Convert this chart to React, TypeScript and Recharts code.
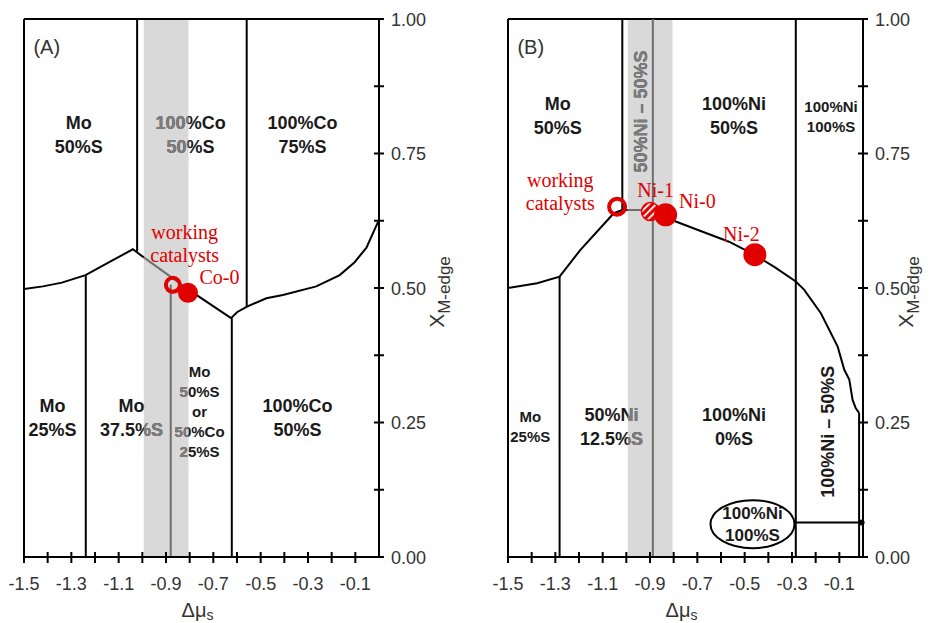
import React from "react";
import {
  ComposedChart,
  XAxis,
  YAxis,
  Line,
  Scatter,
  ReferenceArea,
  ReferenceLine,
  ReferenceDot,
} from "recharts";

type Pt = { x: number; y: number };
type Seg = [number, number, number]; // x, yFrom, yTo
type Lab = { x: number; y: number; lines: string[] };

// axes
const X_TICKS = [-1.5, -1.4, -1.3, -1.2, -1.1, -1.0, -0.9, -0.8, -0.7, -0.6, -0.5, -0.4, -0.3, -0.2, -0.1];
const X_TICK_LABELS = [-1.5, -1.3, -1.1, -0.9, -0.7, -0.5, -0.3, -0.1];
const Y_TICKS = [0, 0.125, 0.25, 0.375, 0.5, 0.625, 0.75, 0.875, 1];
const Y_TICK_LABELS = [0, 0.25, 0.5, 0.75, 1];

const BAND: [number, number] = [-0.994, -0.805];

// ---- panel A (Co) ----
const A_CURVES: Pt[][] = [
  [
    { x: -1.5, y: 0.498 }, { x: -1.42, y: 0.503 }, { x: -1.34, y: 0.51 },
    { x: -1.24, y: 0.524 }, { x: -1.14, y: 0.548 }, { x: -1.04, y: 0.572 }, { x: -0.994, y: 0.557 },
  ],
  [{ x: -0.805, y: 0.497 }, { x: -0.625, y: 0.444 }],
  [
    { x: -0.625, y: 0.444 }, { x: -0.6, y: 0.455 }, { x: -0.56, y: 0.465 }, { x: -0.476, y: 0.481 },
    { x: -0.406, y: 0.487 }, { x: -0.265, y: 0.503 }, { x: -0.166, y: 0.524 }, { x: -0.103, y: 0.548 },
    { x: -0.053, y: 0.575 }, { x: -0.004, y: 0.623 },
  ],
];
const A_GREY_CURVES: Pt[][] = [[{ x: -0.994, y: 0.557 }, { x: -0.805, y: 0.497 }]];
const A_WALLS: Seg[] = [[-1.022, 0.568, 1], [-0.559, 0.466, 1], [-1.239, 0, 0.524], [-0.622, 0, 0.444]];
const A_GREY_WALLS: Seg[] = [[-0.88, 0, 0.506]];
const A_RINGS: Pt[] = [{ x: -0.871, y: 0.506 }];
const A_DOTS: Pt[] = [{ x: -0.807, y: 0.491 }];
const A_BIG: Lab[] = [
  { x: -1.269, y: 0.785, lines: ["Mo", "50%S"] },
  { x: -0.796, y: 0.785, lines: ["100%Co", "50%S"] },
  { x: -0.323, y: 0.785, lines: ["100%Co", "75%S"] },
  { x: -1.38, y: 0.26, lines: ["Mo", "25%S"] },
  { x: -1.046, y: 0.26, lines: ["Mo", "37.5%S"] },
  { x: -0.344, y: 0.26, lines: ["100%Co", "50%S"] },
];
const A_SMALL: Lab[] = [{ x: -0.758, y: 0.271, lines: ["Mo", "50%S", "or", "50%Co", "25%S"] }];
const A_RED: Lab[] = [
  { x: -0.821, y: 0.583, lines: ["working", "catalysts"] },
  { x: -0.674, y: 0.521, lines: ["Co-0"] },
];

// ---- panel B (Ni) ----
const B_CURVES: Pt[][] = [
  [
    { x: -1.5, y: 0.5 }, { x: -1.377, y: 0.509 }, { x: -1.282, y: 0.521 }, { x: -1.194, y: 0.571 },
    { x: -1.053, y: 0.639 }, { x: -1.017, y: 0.645 }, { x: -0.994, y: 0.645 },
  ],
  [
    { x: -0.805, y: 0.626 }, { x: -0.686, y: 0.606 }, { x: -0.566, y: 0.586 }, { x: -0.46, y: 0.562 },
    { x: -0.37, y: 0.538 }, { x: -0.284, y: 0.512 }, { x: -0.249, y: 0.497 }, { x: -0.178, y: 0.453 },
    { x: -0.107, y: 0.391 }, { x: -0.079, y: 0.348 }, { x: -0.058, y: 0.33 }, { x: -0.044, y: 0.292 },
    { x: -0.031, y: 0.277 }, { x: -0.0165, y: 0.268 },
  ],
];
const B_GREY_CURVES: Pt[][] = [
  [{ x: -0.994, y: 0.645 }, { x: -0.888, y: 0.645 }, { x: -0.805, y: 0.626 }],
];
const B_WALLS: Seg[] = [[-1.017, 0.645, 1], [-0.284, 0, 1], [-1.282, 0, 0.521], [-0.0165, 0, 0.268]];
const B_GREY_WALLS: Seg[] = [[-0.888, 0, 1]];
const B_SHELF: Pt[] = [{ x: -0.284, y: 0.064 }, { x: -0.006, y: 0.064 }];
const B_RINGS: Pt[] = [{ x: -1.039, y: 0.651 }];
const B_HATCHED: Pt[] = [{ x: -0.898, y: 0.642 }];
const B_DOTS: Pt[] = [{ x: -0.834, y: 0.636 }, { x: -0.457, y: 0.562 }];
const B_BIG: Lab[] = [
  { x: -1.29, y: 0.82, lines: ["Mo", "50%S"] },
  { x: -0.545, y: 0.82, lines: ["100%Ni", "50%S"] },
  { x: -1.063, y: 0.243, lines: ["50%Ni", "12.5%S"] },
  { x: -0.545, y: 0.243, lines: ["100%Ni", "0%S"] },
];
const B_SMALL: Lab[] = [
  { x: -0.135, y: 0.818, lines: ["100%Ni", "100%S"] },
  { x: -1.406, y: 0.243, lines: ["Mo", "25%S"] },
];
const B_OVAL: Lab[] = [{ x: -0.467, y: 0.061, lines: ["100%Ni", "100%S"] }];
const B_UPRIGHT: Lab[] = [
  { x: -0.94, y: 0.828, lines: ["50%Ni – 50%S"] },
  { x: -0.152, y: 0.233, lines: ["100%Ni – 50%S"] },
];
const B_RED: Lab[] = [
  { x: -1.279, y: 0.679, lines: ["working", "catalysts"] },
  { x: -0.876, y: 0.683, lines: ["Ni-1"] },
  { x: -0.7, y: 0.662, lines: ["Ni-0"] },
  { x: -0.514, y: 0.6, lines: ["Ni-2"] },
];

const SANS = '"Liberation Sans", Arial, sans-serif';
const SERIF = '"Liberation Serif", "Times New Roman", serif';
const RED = "#e00000";
const INK = "#1a1a1a";
const BAND_INK = "#7d7d7d";
const GREY_LINE = "#6f6f6f";

const near = (arr: number[], v: number) => arr.some((t) => Math.abs(t - v) < 1e-6);

function xTick(p: any) {
  const { x, y, payload } = p;
  const v = payload.value;
  return (
    <g>
      <line x1={x} x2={x} y1={y - 5} y2={y + 6} stroke="#000" strokeWidth={2} />
      {near(X_TICK_LABELS, v) && (
        <text x={x} y={y + 33} textAnchor="middle" fontFamily={SANS} fontSize={18} fill="#333">
          {v.toFixed(1)}
        </text>
      )}
    </g>
  );
}

function yTick(p: any) {
  const { x, y, payload } = p;
  const v = payload.value;
  return (
    <g>
      <line x1={x - 5} x2={x + 5} y1={y} y2={y} stroke="#000" strokeWidth={2} />
      {near(Y_TICK_LABELS, v) && (
        <text x={x + 12} y={y + 6.5} textAnchor="start" fontFamily={SANS} fontSize={18} fill="#333">
          {v.toFixed(2)}
        </text>
      )}
    </g>
  );
}

function block(
  cx: number, cy: number, lines: string[], size: number, gap: number,
  fill: string, weight: string, family: string,
) {
  const n = lines.length;
  return (
    <text fontFamily={family} fontSize={size} fontWeight={weight} fill={fill} textAnchor="middle">
      {lines.map((l, i) => (
        <tspan key={i} x={cx} y={cy + (i - (n - 1) / 2) * gap + size * 0.36}>{l}</tspan>
      ))}
    </text>
  );
}

// black text, with the part lying on the grey band redrawn in grey
const labelShape = (size: number, gap: number, clip: string) => (p: any) => {
  const lines: string[] = p.payload?.lines ?? p.lines;
  return (
    <g>
      {block(p.cx, p.cy, lines, size, gap, INK, "bold", SANS)}
      <g clipPath={`url(#${clip})`}>{block(p.cx, p.cy, lines, size, gap, BAND_INK, "bold", SANS)}</g>
    </g>
  );
};

const uprightShape = (clip: string) => (p: any) => {
  const text: string = (p.payload?.lines ?? p.lines)[0];
  const t = `rotate(-90, ${p.cx}, ${p.cy})`;
  return (
    <g>
      <g transform={t}>{block(p.cx, p.cy, [text], 18, 20, INK, "bold", SANS)}</g>
      <g clipPath={`url(#${clip})`}>
        <g transform={t}>{block(p.cx, p.cy, [text], 18, 20, BAND_INK, "bold", SANS)}</g>
      </g>
    </g>
  );
};

const redShape = (p: any) => block(p.cx, p.cy, p.payload?.lines ?? p.lines, 20, 23, RED, "normal", SERIF);

const ringShape = (r: number) => (p: any) => (
  <circle cx={p.cx} cy={p.cy} r={r} fill="none" stroke={RED} strokeWidth={4} />
);
const dotShape = (r: number) => (p: any) => <circle cx={p.cx} cy={p.cy} r={r} fill={RED} />;
const hatchShape = (p: any) => (
  <circle cx={p.cx} cy={p.cy} r={9} fill="url(#hatchB)" stroke={RED} strokeWidth={1.5} />
);

type PanelProps = {
  tag: string;
  clip: string;
  width: number;
  margin: { top: number; right: number; left: number; bottom: number };
  yAxisWidth: number;
  yTitleOffset: number;
  curves: Pt[][];
  greyCurves: Pt[][];
  walls: Seg[];
  greyWalls: Seg[];
  rings: Pt[];
  dots: Pt[];
  ringR: number;
  dotR: number;
  big: Lab[];
  small: Lab[];
  smallGap: number;
  red: Lab[];
  extra?: React.ReactNode[];
};

function Panel(pp: PanelProps) {
  return (
    <ComposedChart width={pp.width} height={623} margin={pp.margin}>
      <defs>
        <pattern id="hatchB" patternUnits="userSpaceOnUse" width={5} height={5} patternTransform="rotate(45)">
          <rect x={0} y={0} width={5} height={5} fill={RED} />
          <rect x={0} y={0} width={1.8} height={5} fill="#fff" />
        </pattern>
      </defs>
      <XAxis
        dataKey="x"
        type="number"
        domain={[-1.5, 0]}
        allowDataOverflow
        ticks={X_TICKS}
        interval={0}
        tickSize={0}
        tickMargin={0}
        tickLine={false}
        tick={xTick}
        height={40}
        axisLine={{ stroke: "#000", strokeWidth: 2 }}
        label={{
          content: (p: any) => {
            const vb = p.viewBox;
            return (
              <text x={vb.x + vb.width / 2 - 4} y={vb.y + 60} textAnchor="middle" fontFamily={SANS} fontSize={20} fill="#333">
                Δμ<tspan fontSize={14} dy={3}>s</tspan>
              </text>
            );
          },
        }}
      />
      <YAxis
        dataKey="y"
        type="number"
        orientation="right"
        domain={[0, 1]}
        allowDataOverflow
        ticks={Y_TICKS}
        interval={0}
        tickSize={0}
        tickMargin={0}
        tickLine={false}
        tick={yTick}
        width={pp.yAxisWidth}
        axisLine={{ stroke: "#000", strokeWidth: 2 }}
        label={{
          content: (p: any) => {
            const vb = p.viewBox;
            const bx = vb.x + pp.yTitleOffset;
            const cy = vb.y + vb.height / 2 + 4;
            return (
              <text x={bx} y={cy} transform={`rotate(-90, ${bx}, ${cy})`} textAnchor="middle" fontFamily={SANS} fontSize={21} fill="#333">
                X<tspan fontSize={17} dy={6}>M-edge</tspan>
              </text>
            );
          },
        }}
      />
      <ReferenceArea
        x1={BAND[0]}
        x2={BAND[1]}
        y1={0}
        y2={1}
        shape={(p: any) => (
          <g>
            <defs>
              <clipPath id={pp.clip}>
                <rect x={p.x} y={p.y} width={p.width} height={p.height} />
              </clipPath>
            </defs>
            <rect x={p.x} y={p.y} width={p.width} height={p.height} fill="#d9d9d9" />
          </g>
        )}
      />
      <ReferenceLine y={1} stroke="#000" strokeWidth={2} />
      <ReferenceLine x={-1.5} stroke="#000" strokeWidth={2} />
      {pp.walls.map((w, i) => (
        <ReferenceLine key={`w${i}`} segment={[{ x: w[0], y: w[1] }, { x: w[0], y: w[2] }]} stroke="#000" strokeWidth={2} />
      ))}
      {pp.greyWalls.map((w, i) => (
        <ReferenceLine key={`g${i}`} segment={[{ x: w[0], y: w[1] }, { x: w[0], y: w[2] }]} stroke={GREY_LINE} strokeWidth={2} />
      ))}
      {pp.curves.map((c, i) => (
        <Line key={`c${i}`} data={c} dataKey="y" type="linear" stroke="#000" strokeWidth={2} dot={false} activeDot={false} isAnimationActive={false} />
      ))}
      {pp.greyCurves.map((c, i) => (
        <Line key={`gc${i}`} data={c} dataKey="y" type="linear" stroke={GREY_LINE} strokeWidth={2} dot={false} activeDot={false} isAnimationActive={false} />
      ))}
      {pp.extra}
      <Scatter data={pp.big} shape={labelShape(18, 24, pp.clip)} isAnimationActive={false} />
      <Scatter data={pp.small} shape={labelShape(15, pp.smallGap, pp.clip)} isAnimationActive={false} />
      <Scatter data={pp.red} shape={redShape} isAnimationActive={false} />
      <Scatter data={pp.rings} shape={ringShape(pp.ringR)} isAnimationActive={false} />
      <Scatter data={pp.dots} shape={dotShape(pp.dotR)} isAnimationActive={false} />
      <ReferenceDot
        x={-1.46}
        y={0.948}
        r={1}
        shape={(p: any) => (
          <text x={p.cx} y={p.cy + 7} fontFamily={SANS} fontSize={20} fill="#333">{pp.tag}</text>
        )}
      />
    </ComposedChart>
  );
}

export default function App() {
  const extraB = [
    <ReferenceLine key="shelf" segment={B_SHELF} stroke="#000" strokeWidth={2} />,
    <ReferenceDot key="shelfdot" x={B_SHELF[1].x} y={B_SHELF[1].y} r={3} fill="#000" stroke="none" />,
    <ReferenceDot
      key="oval"
      x={B_OVAL[0].x}
      y={B_OVAL[0].y}
      r={1}
      shape={(p: any) => <ellipse cx={p.cx} cy={p.cy} rx={42} ry={24} fill="none" stroke="#000" strokeWidth={2} />}
    />,
    <Scatter key="ovaltxt" data={B_OVAL} shape={labelShape(17, 22, "bandB")} isAnimationActive={false} />,
    <Scatter key="upright" data={B_UPRIGHT} shape={uprightShape("bandB")} isAnimationActive={false} />,
    <Scatter key="hatched" data={B_HATCHED} shape={hatchShape} isAnimationActive={false} />,
  ];
  return (
    <div style={{ position: "absolute", left: 0, top: 0, width: 936, height: 623, background: "#fff" }}>
      <div style={{ position: "absolute", left: 0, top: 0 }}>
        <Panel
          tag="(A)"
          clip="bandA"
          width={470}
          margin={{ top: 19, right: 21, left: 24, bottom: 26 }}
          yAxisWidth={70}
          yTitleOffset={65}
          curves={A_CURVES}
          greyCurves={A_GREY_CURVES}
          walls={A_WALLS}
          greyWalls={A_GREY_WALLS}
          rings={A_RINGS}
          dots={A_DOTS}
          ringR={7}
          dotR={10}
          big={A_BIG}
          small={A_SMALL}
          smallGap={20}
          red={A_RED}
        />
      </div>
      <div style={{ position: "absolute", left: 470, top: 0 }}>
        <Panel
          tag="(B)"
          clip="bandB"
          width={466}
          margin={{ top: 19, right: 13, left: 38, bottom: 26 }}
          yAxisWidth={60}
          yTitleOffset={50}
          curves={B_CURVES}
          greyCurves={B_GREY_CURVES}
          walls={B_WALLS}
          greyWalls={B_GREY_WALLS}
          rings={B_RINGS}
          dots={B_DOTS}
          ringR={8}
          dotR={11.5}
          big={B_BIG}
          small={B_SMALL}
          smallGap={20}
          red={B_RED}
          extra={extraB}
        />
      </div>
    </div>
  );
}
